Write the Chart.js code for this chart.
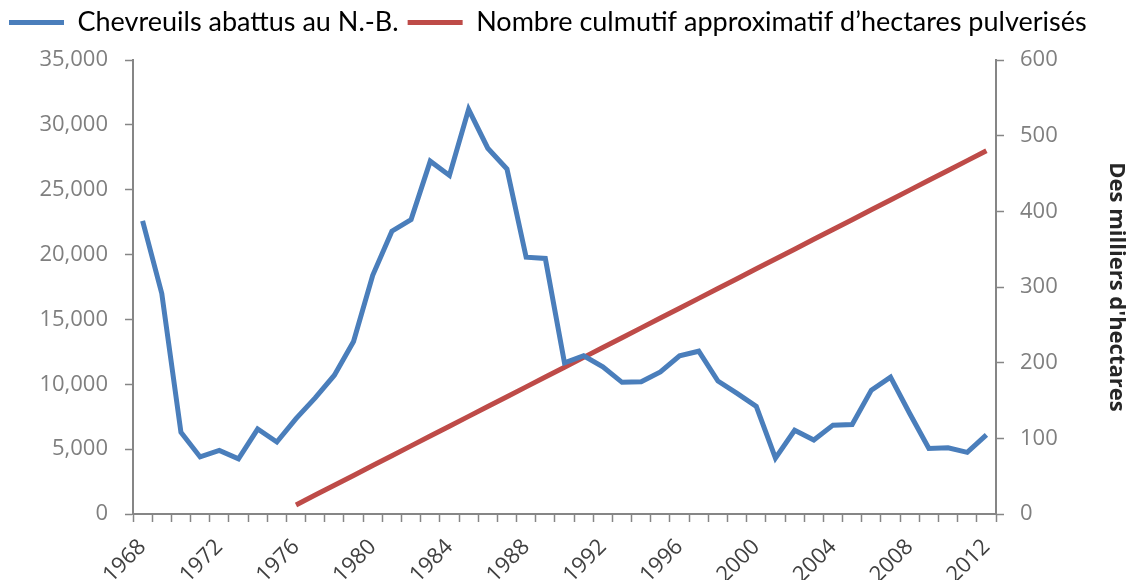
<!DOCTYPE html>
<html>
<head>
<meta charset="utf-8">
<script src="https://cdn.jsdelivr.net/npm/chart.js@4"></script>
<style>
  html, body { margin: 0; padding: 0; background: #fff; }
  #wrap { width: 1131px; height: 580px; }
</style>
</head>
<body>
<div id="wrap"><canvas id="chart" width="1131" height="580"></canvas></div>
<script>
// years on the x axis
const years = [];
for (let y = 1968; y <= 2012; y++) years.push(String(y));

// deer harvested in New Brunswick (left axis)
const deerHarvest = [
    22600, 17000, 6300, 4400, 4900, 4250, 6550, 5550, 7350, 8950,
    10700, 13300, 18400, 21800, 22700, 27200, 26100, 31200, 28200, 26600,
    19800, 19700, 11650, 12200, 11350, 10150, 10200, 10950, 12200, 12550,
    10250, 9300, 8300, 4300, 6450, 5700, 6850, 6900, 9550, 10550,
    7750, 5050, 5100, 4750, 6100
];

// cumulative hectares sprayed, thousands (right axis), starts 1976
const hectaresSprayed = [
    null, null, null, null, null, null, null, null,
    12, 25, 38, 51, 64, 77, 90, 103, 116, 129,
    142, 155, 168, 181, 194, 207, 220, 233, 246, 259,
    272, 285, 298, 311, 324, 337, 350, 363, 376, 389,
    402, 415, 428, 441, 454, 467, 480
];

const leftTicks = [0, 5000, 10000, 15000, 20000, 25000, 30000, 35000];
const rightTicks = [0, 100, 200, 300, 400, 500, 600];

const axisGray = '#868686';
const tickFont = { family: 'Open Sans', size: 22 };

// extra space under the legend
const legendGap = {
    id: 'legendGap',
    beforeInit(chart) {
        const fit = chart.legend.fit;
        chart.legend.fit = function () {
            fit.bind(chart.legend)();
            this.height += 14;
        };
    }
};

new Chart(document.getElementById('chart').getContext('2d'), {
    type: 'line',
    data: {
        labels: years,
        datasets: [
            {
                label: 'Chevreuils abattus au N.-B.',
                data: deerHarvest,
                borderColor: '#4a7ebb',
                backgroundColor: '#4a7ebb',
                borderWidth: 5,
                pointRadius: 0,
                tension: 0,
                yAxisID: 'y'
            },
            {
                label: 'Nombre culmutif approximatif d\u2019hectares pulverisés',
                data: hectaresSprayed,
                borderColor: '#be4b48',
                backgroundColor: '#be4b48',
                borderWidth: 5,
                pointRadius: 0,
                tension: 0,
                yAxisID: 'y1'
            }
        ]
    },
    options: {
        responsive: false,
        animation: false,
        plugins: {
            legend: {
                position: 'top',
                align: 'start',
                labels: {
                    boxWidth: 55,
                    boxHeight: 5,
                    padding: 9,
                    color: '#000',
                    font: { family: 'Lato', size: 27 },
                    generateLabels(chart) {
                        const items = Chart.defaults.plugins.legend.labels.generateLabels(chart);
                        items.forEach(item => { item.lineWidth = 0; });
                        return items;
                    }
                }
            },
            tooltip: { enabled: false }
        },
        scales: {
            x: {
                type: 'category',
                offset: true,
                afterFit(scale) { scale.height = 66; },
                border: { color: axisGray, width: 2 },
                grid: {
                    offset: true,
                    drawOnChartArea: false,
                    drawTicks: true,
                    tickLength: 8,
                    tickWidth: 1.5,
                    tickColor: axisGray
                },
                ticks: {
                    autoSkip: false,
                    minRotation: 45,
                    maxRotation: 45,
                    padding: 12,
                    color: '#404040',
                    font: tickFont,
                    callback(value, index) {
                        return index % 4 === 0 ? years[index] : '';
                    }
                }
            },
            y: {
                position: 'left',
                min: 0,
                max: 35000,
                afterFit(scale) { scale.width = 133; },
                afterBuildTicks(scale) { scale.ticks = leftTicks.map(v => ({ value: v })); },
                border: { color: axisGray, width: 2 },
                grid: {
                    drawOnChartArea: false,
                    tickLength: 8,
                    tickWidth: 1.5,
                    tickColor: axisGray
                },
                ticks: {
                    padding: 17,
                    color: '#7f7f7f',
                    font: tickFont,
                    callback(value) { return value.toLocaleString('en-US'); }
                }
            },
            y1: {
                position: 'right',
                min: 0,
                max: 600,
                afterFit(scale) { scale.width = 135; },
                afterBuildTicks(scale) { scale.ticks = rightTicks.map(v => ({ value: v })); },
                border: { color: axisGray, width: 2 },
                grid: {
                    drawOnChartArea: false,
                    tickLength: 8,
                    tickWidth: 1.5,
                    tickColor: axisGray
                },
                ticks: {
                    padding: 16,
                    color: '#7f7f7f',
                    font: tickFont
                },
                title: {
                    display: true,
                    text: "Des milliers d'hectares",
                    color: '#262626',
                    padding: 2,
                    font: { family: 'Open Sans', size: 22, weight: 'bold' }
                }
            }
        }
    },
    plugins: [legendGap]
});
</script>
</body>
</html>
